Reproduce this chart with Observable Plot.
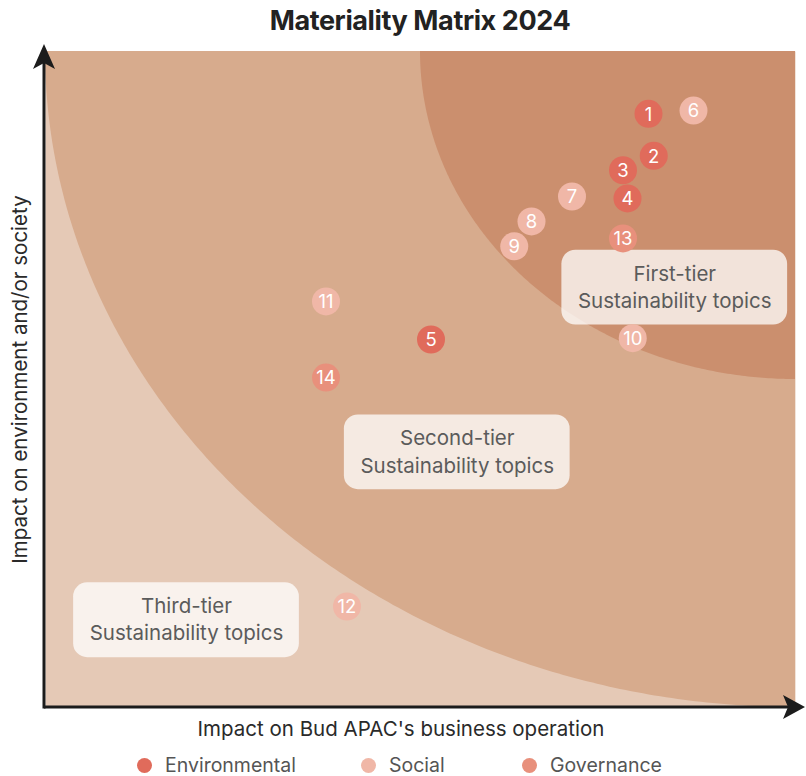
<!DOCTYPE html>
<html>
<head>
<meta charset="utf-8">
<script src="https://cdn.jsdelivr.net/npm/d3@7"></script>
<script src="https://cdn.jsdelivr.net/npm/@observablehq/plot@0.6"></script>
<style>
  body { margin: 0; background: #fff; width: 806px; font-family: Inter, "Noto Sans", sans-serif; }
  #title { height: 40px; line-height: 42px; text-align: center; padding-left: 34px; font-weight: 700; font-size: 27px; color: #222; letter-spacing: -0.4px; }
  #chart svg { display: block; }
  #legend { position: relative; height: 30px; font-size: 19.5px; color: #555; }
  .item { position: absolute; top: 0; height: 30px; display: flex; align-items: center; white-space: nowrap; }
  .dot { width: 15px; height: 15px; border-radius: 50%; margin-right: 13px; flex: none; }
</style>
</head>
<body>
<div id="title">Materiality Matrix 2024</div>
<div id="chart"></div>
<div id="legend"></div>
<script>
// ---- data ----
const topicIds   = [1, 2, 3, 4, 5, 6, 7, 8, 9, 10, 11, 12, 13, 14];
const businessX  = [8.04, 8.11, 7.70, 7.76, 5.14, 8.64, 7.02, 6.48, 6.25, 7.83, 3.74, 4.02, 7.70, 3.74];
const societyY   = [9.05, 8.41, 8.19, 7.76, 5.61, 9.10, 7.79, 7.41, 7.03, 5.63, 6.19, 1.54, 7.15, 5.03];
const categories = ["Environmental","Environmental","Environmental","Environmental","Environmental",
                    "Social","Social","Social","Social","Social","Social","Social",
                    "Governance","Governance"];
const categoryNames  = ["Environmental", "Social", "Governance"];
const categoryColors = ["#e06b5b", "#f0b7a7", "#e8907c"];

const tierLabels = ["First-tier\nSustainability topics", "Second-tier\nSustainability topics", "Third-tier\nSustainability topics"];
const tierLabelX = [8.39, 5.49, 1.88];
const tierLabelY = [6.40, 3.89, 1.33];
const tierRadius = [10, 5];            // quarter-circle zones around the top-right corner
const tierColors = ["#d7ab8d", "#cb8f6e"];
const baseColor  = "#e5c9b6";

const xLabel = "Impact on Bud APAC's business operation";
const yLabel = "Impact on environment and/or society";

// ---- build tables ----
const topics = topicIds.map((id, i) => ({id, x: businessX[i], y: societyY[i], cat: categories[i]}));
const boxes = tierLabels.map((t, i) => ({t, x: tierLabelX[i], y: tierLabelY[i]}));
function zone(r) {
  return d3.range(0, 201).map(k => {
    const a = (k / 200) * Math.PI / 2;
    return {x: 10 - r * Math.cos(a), y: 10 - r * Math.sin(a)};
  });
}
const BW = 3.01, BH = 1.14;

function axesArrows(index, scales, values, dims) {
  const g = d3.create("svg:g");
  const x0 = scales.x(0) - 1, y0 = scales.y(0);
  const xt = scales.x(10) + 10, yt = scales.y(10) - 7;
  g.append("line").attr("x1", x0).attr("y1", y0).attr("x2", xt - 8).attr("y2", y0)
    .attr("stroke", "#1c1c1c").attr("stroke-width", 3);
  g.append("line").attr("x1", x0).attr("y1", y0 + 1.5).attr("x2", x0).attr("y2", yt + 8)
    .attr("stroke", "#1c1c1c").attr("stroke-width", 3);
  g.append("path").attr("fill", "#1c1c1c")
    .attr("d", `M${xt},${y0} L${xt - 22},${y0 - 12} L${xt - 17},${y0} L${xt - 22},${y0 + 12} Z`);
  g.append("path").attr("fill", "#1c1c1c")
    .attr("d", `M${x0},${yt} L${x0 - 11},${yt + 25} L${x0},${yt + 19} L${x0 + 11},${yt + 25} Z`);
  return g.node();
}

const chart = Plot.plot({
  width: 806,
  height: 710,
  marginTop: 11,
  marginBottom: 43,
  marginLeft: 45,
  marginRight: 11,
  x: {domain: [0, 10], axis: null},
  y: {domain: [0, 10], axis: null},
  color: {domain: categoryNames, range: categoryColors},
  style: {fontFamily: "Inter, 'Noto Sans', sans-serif"},
  marks: [
    Plot.frame({fill: baseColor, stroke: null}),
    ...tierRadius.map((r, i) => Plot.areaY(zone(r), {x: "x", y1: "y", y2: 10, fill: tierColors[i], curve: "linear"})),
    Plot.rect(boxes, {x1: d => d.x - BW / 2, x2: d => d.x + BW / 2, y1: d => d.y - BH / 2, y2: d => d.y + BH / 2,
      fill: "#ffffff", fillOpacity: 0.75, rx: 14}),
    Plot.text(boxes, {x: "x", y: "y", text: "t", fontSize: 20.5, fill: "#5b5b5b", lineHeight: 1.32, dy: -2}),
    Plot.dot(topics, {x: "x", y: "y", r: 14, fill: "cat"}),
    Plot.text(topics, {x: "x", y: "y", text: d => String(d.id), fill: "white", fontSize: 18.5, dy: 1}),
    axesArrows,
    Plot.text([xLabel], {x: 4.74, frameAnchor: "bottom", lineAnchor: "middle", dy: 22, text: d => d, fontSize: 20.5, fill: "#2a2a2a"}),
    Plot.text([yLabel], {y: 5, frameAnchor: "left", textAnchor: "middle", dx: -25, rotate: -90, text: d => d, fontSize: 20.5, fill: "#2a2a2a"})
  ]
});
document.getElementById("chart").appendChild(chart);

// legend
const legendLeft = [137, 361, 522];
const legend = document.getElementById("legend");
categoryNames.forEach((name, i) => {
  const item = document.createElement("div");
  item.className = "item";
  item.style.left = legendLeft[i] + "px";
  const dot = document.createElement("span");
  dot.className = "dot";
  dot.style.background = categoryColors[i];
  const label = document.createElement("span");
  label.textContent = name;
  item.appendChild(dot);
  item.appendChild(label);
  legend.appendChild(item);
});
</script>
</body>
</html>
